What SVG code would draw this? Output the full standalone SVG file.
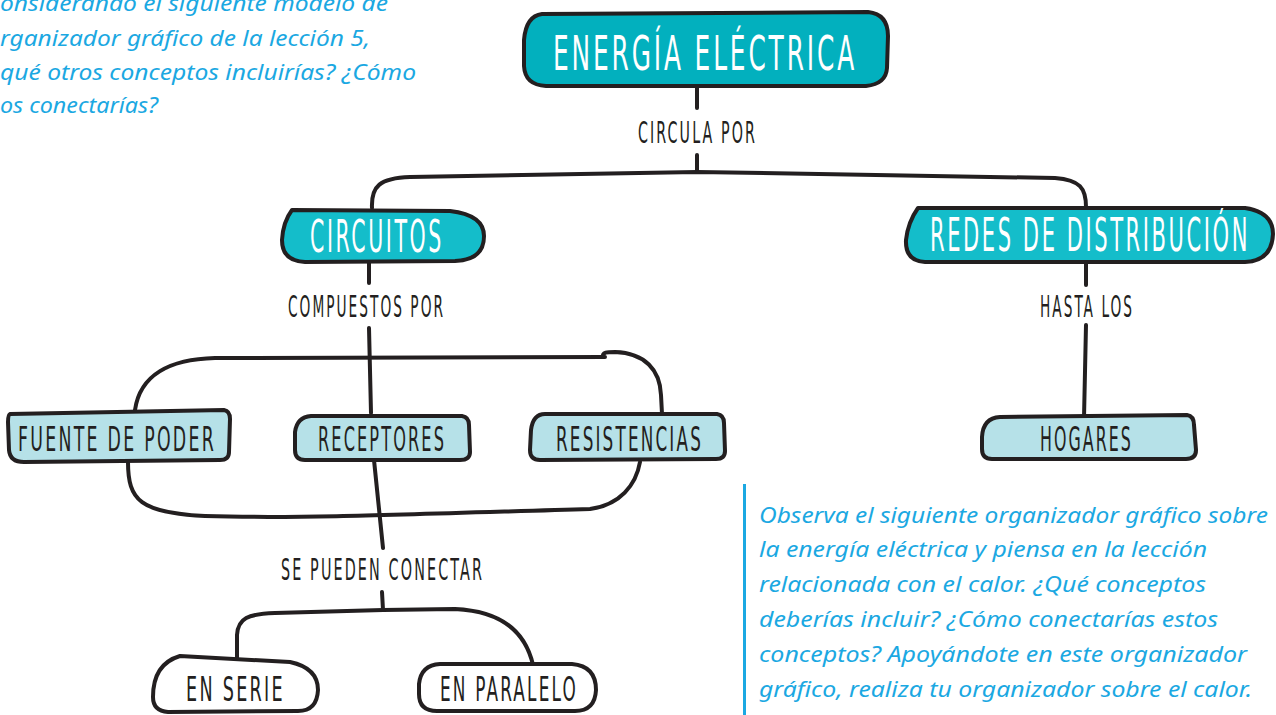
<svg xmlns="http://www.w3.org/2000/svg" width="1276" height="715" viewBox="0 0 1276 715">
<style>
.box{stroke:#231f20;stroke-width:4;stroke-linejoin:round}
.main{fill:#02b0be}
.sub{fill:#14bdca}
.leaf{fill:#b6e1e8}
.plain{fill:#ffffff}
.con{fill:none;stroke:#231f20;stroke-width:4;stroke-linecap:round;stroke-linejoin:round}
.wt{font-family:"DejaVu Sans Condensed","DejaVu Sans",sans-serif;fill:#ffffff;letter-spacing:5px}
.dt{font-family:"DejaVu Sans Condensed","DejaVu Sans",sans-serif;fill:#231f20;letter-spacing:4px}
.note{font-family:"Noto Sans","Open Sans",sans-serif;font-style:italic;fill:#1ba8e2;font-size:22px}
</style>
<g id="connectors">
<path class="con" d="M697 86 L697 108"/>
<path class="con" d="M697 155 L697 172"/>
<path class="con" d="M372 208 C371 186 380 178 410 177 L697 172 L1055 178 C1080 180 1086 188 1086 207"/>
<path class="con" d="M369 263 L369 283"/>
<path class="con" d="M369 328 L371 413"/>
<path class="con" d="M374 460 L383 548"/>
<path class="con" d="M382 592 L383 610"/>
<path class="con" d="M237 660 L237 635 C238 618 248 614 275 613 L383 610 L455 609 C500 611 525 630 533 665"/>
<path class="con" d="M1086 263 L1086 285"/>
<path class="con" d="M1086 325 L1084 418"/>
<path class="con" d="M135 410 C140 375 170 359 215 358 L605 357"/>
<path class="con" d="M603 357 C602 352 607 352 615 352 C645 353 660 370 661 395 L662 414"/>
<path class="con" d="M128 462 C128 500 140 513 205 516 C300 519 420 514 590 509 C620 505 636 485 640 462"/>
</g>
<g id="n-energia">
<path class="box main" d="M542 14 L868 12 Q888 14 888 36 L887 68 Q886 84 866 86 L546 86 Q525 85 524 66 L524 40 Q526 16 542 14 Z"/>
<text class="wt" x="553" y="70" font-size="48" textLength="304" lengthAdjust="spacingAndGlyphs">ENERGÍA ELÉCTRICA</text>
</g>
<g id="l-circula">
<text class="dt" x="638" y="143" font-size="30" textLength="119" lengthAdjust="spacingAndGlyphs">CIRCULA POR</text>
</g>
<g id="n-circuitos">
<path class="box sub" d="M292 210 L450 211 Q484 215 484 236 Q484 260 455 261 L305 262 Q282 261 282 240 Q283 222 292 210 Z"/>
<text class="wt" x="310" y="252" font-size="44" textLength="134" lengthAdjust="spacingAndGlyphs">CIRCUITOS</text>
</g>
<g id="n-redes">
<path class="box sub" d="M918 208 L1245 208 Q1273 212 1273 234 Q1272 261 1245 262 L925 262 Q905 261 906 240 Q908 222 918 208 Z"/>
<text class="wt" x="930" y="251" font-size="46" textLength="320" lengthAdjust="spacingAndGlyphs">REDES DE DISTRIBUCIÓN</text>
</g>
<g id="l-compuestos">
<text class="dt" x="288" y="317" font-size="30" textLength="157" lengthAdjust="spacingAndGlyphs">COMPUESTOS POR</text>
</g>
<g id="l-hasta">
<text class="dt" x="1040" y="317" font-size="30" textLength="94" lengthAdjust="spacingAndGlyphs">HASTA LOS</text>
</g>
<g id="n-fuente">
<path class="box leaf" d="M10 414 L224 410 Q230 411 230 419 L229 452 Q229 460 220 460 L24 462 Q10 462 9 450 L8 422 Q8 415 10 414 Z"/>
<text class="dt" x="18" y="451" font-size="34" textLength="198" lengthAdjust="spacingAndGlyphs">FUENTE DE PODER</text>
</g>
<g id="n-receptores">
<path class="box leaf" d="M311 416 L462 416 Q469 417 469 425 L470 452 Q470 460 460 460 L305 460 Q295 460 295 450 L295 432 Q297 417 311 416 Z"/>
<text class="dt" x="318" y="451" font-size="34" textLength="128" lengthAdjust="spacingAndGlyphs">RECEPTORES</text>
</g>
<g id="n-resistencias">
<path class="box leaf" d="M545 414 L717 414 Q724 415 724 423 L725 451 Q725 459 716 459 L540 460 Q530 460 530 450 L531 430 Q533 414 545 414 Z"/>
<text class="dt" x="556" y="451" font-size="34" textLength="147" lengthAdjust="spacingAndGlyphs">RESISTENCIAS</text>
</g>
<g id="n-hogares">
<path class="box leaf" d="M1000 417 L1187 415 Q1194 416 1194 425 L1196 450 Q1196 459 1186 459 L992 459 Q982 459 982 449 L982 437 Q983 418 1000 417 Z"/>
<text class="dt" x="1040" y="451" font-size="34" textLength="93" lengthAdjust="spacingAndGlyphs">HOGARES</text>
</g>
<g id="l-sepueden">
<text class="dt" x="281" y="580" font-size="30" textLength="203" lengthAdjust="spacingAndGlyphs">SE PUEDEN CONECTAR</text>
</g>
<g id="n-serie">
<path class="box plain" d="M180 656 L290 662 Q318 668 318 690 Q317 711 298 711 L168 712 Q153 711 153 697 Q153 664 180 656 Z"/>
<text class="dt" x="186" y="701" font-size="34" textLength="99" lengthAdjust="spacingAndGlyphs">EN SERIE</text>
</g>
<g id="n-paralelo">
<path class="box plain" d="M440 664 L572 664 Q596 666 596 690 Q595 711 575 711 L437 711 Q419 711 419 694 L419 684 Q421 665 440 664 Z"/>
<text class="dt" x="440" y="701" font-size="34" textLength="138" lengthAdjust="spacingAndGlyphs">EN PARALELO</text>
</g>
<g id="note-left">
<text class="note" x="0" y="11" textLength="388" lengthAdjust="spacingAndGlyphs">onsiderando el siguiente modelo de</text>
<text class="note" x="0" y="46" textLength="370" lengthAdjust="spacingAndGlyphs">rganizador gráfico de la lección 5,</text>
<text class="note" x="0" y="80" textLength="416" lengthAdjust="spacingAndGlyphs">qué otros conceptos incluirías? ¿Cómo</text>
<text class="note" x="0" y="113" textLength="158" lengthAdjust="spacingAndGlyphs">os conectarías?</text>
</g>
<g id="note-right">
<rect x="743" y="484" width="3" height="231" fill="#1ba8e2"/>
<text class="note" x="759" y="523" textLength="509" lengthAdjust="spacingAndGlyphs">Observa el siguiente organizador gráfico sobre</text>
<text class="note" x="759" y="557" textLength="448" lengthAdjust="spacingAndGlyphs">la energía eléctrica y piensa en la lección</text>
<text class="note" x="759" y="592" textLength="447" lengthAdjust="spacingAndGlyphs">relacionada con el calor. ¿Qué conceptos</text>
<text class="note" x="759" y="627" textLength="459" lengthAdjust="spacingAndGlyphs">deberías incluir? ¿Cómo conectarías estos</text>
<text class="note" x="759" y="662" textLength="488" lengthAdjust="spacingAndGlyphs">conceptos? Apoyándote en este organizador</text>
<text class="note" x="759" y="697" textLength="493" lengthAdjust="spacingAndGlyphs">gráfico, realiza tu organizador sobre el calor.</text>
</g>
</svg>
